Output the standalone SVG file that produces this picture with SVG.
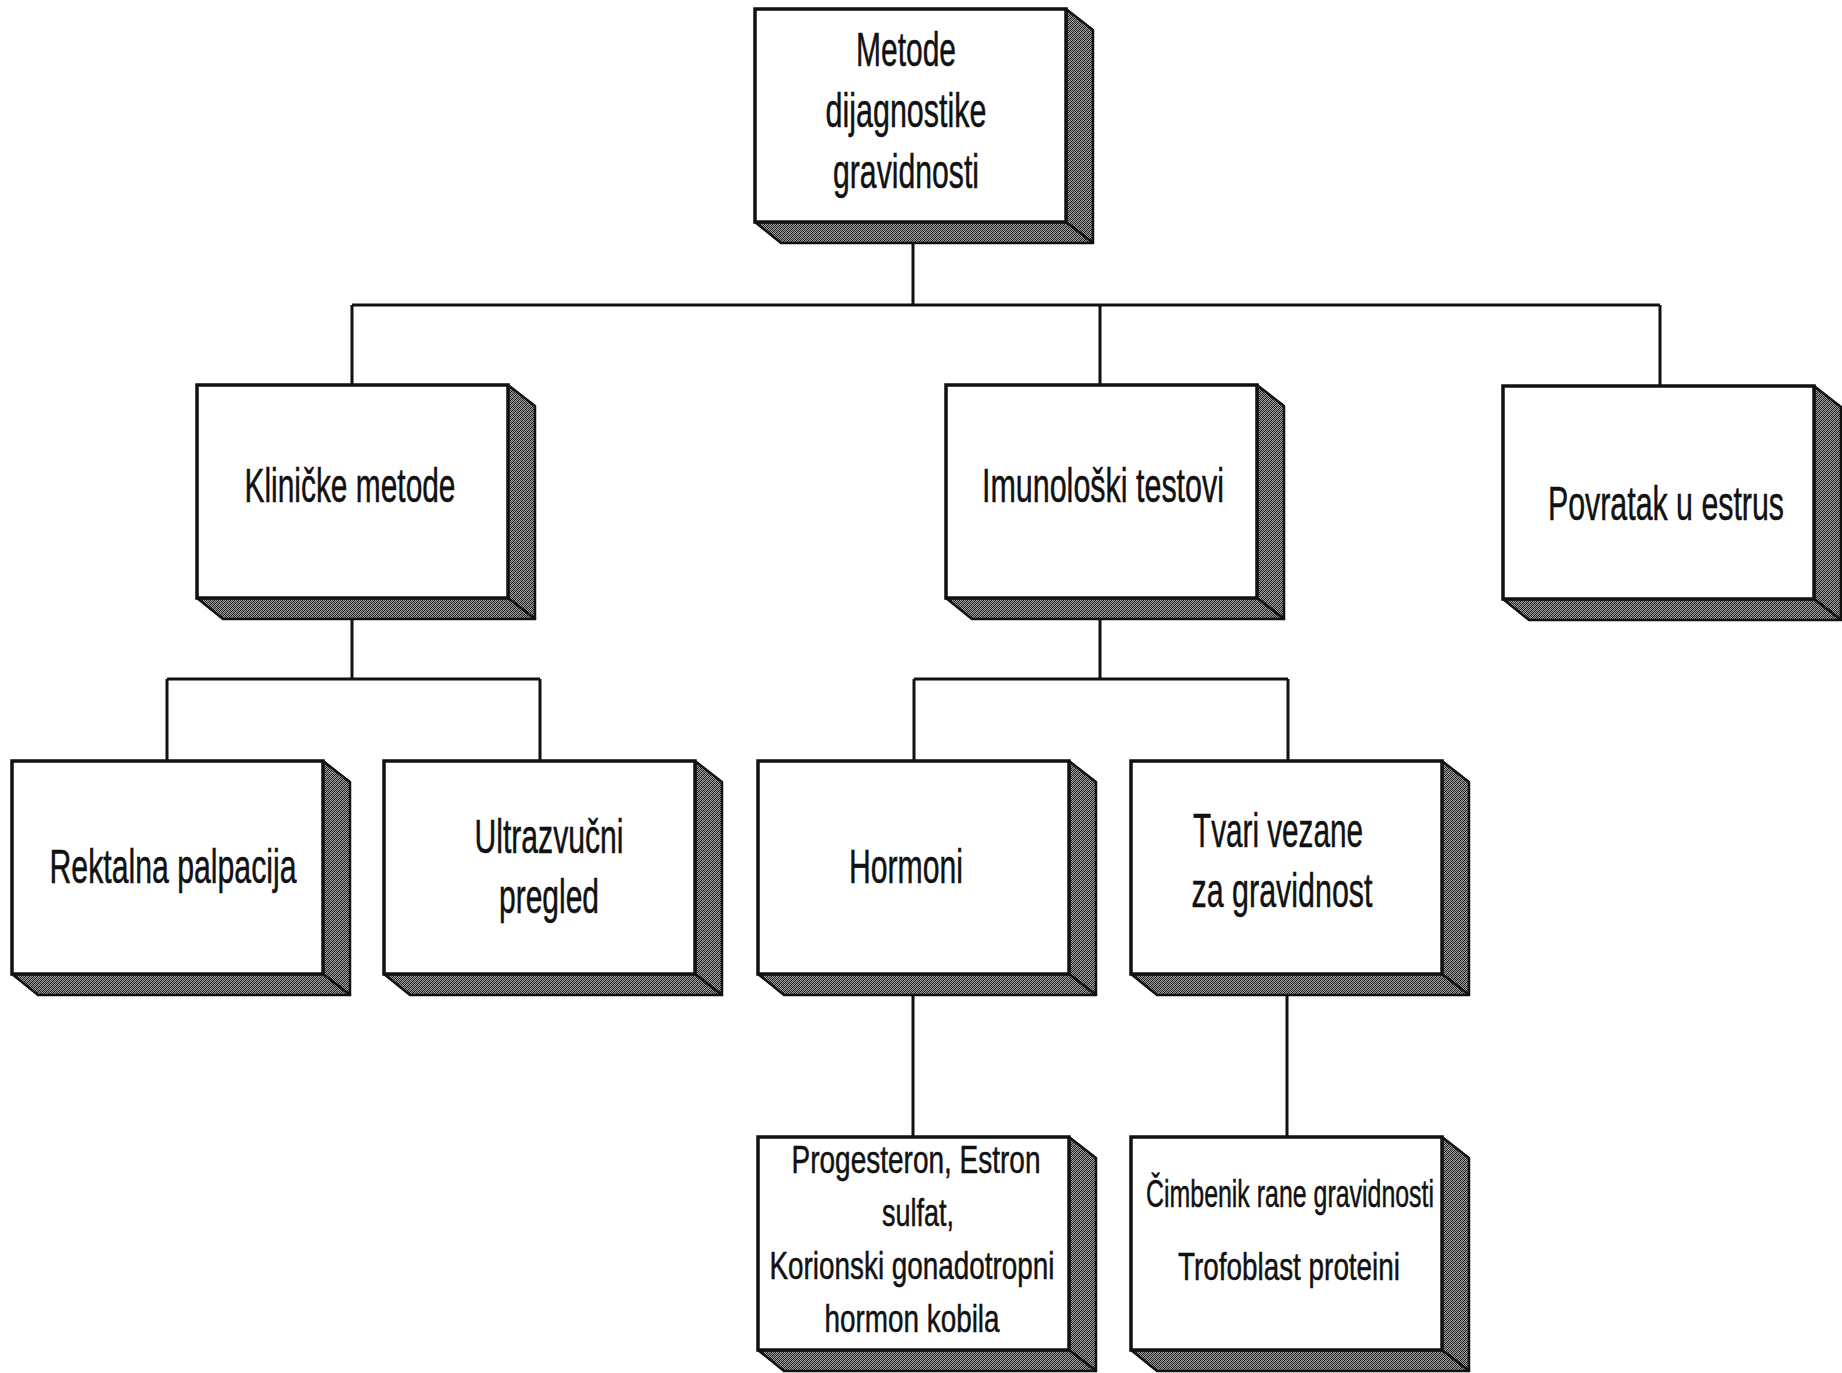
<svg xmlns="http://www.w3.org/2000/svg" width="1842" height="1373" viewBox="0 0 1842 1373">
<defs>
<pattern id="stip" width="4" height="4" patternUnits="userSpaceOnUse">
<rect width="4" height="4" fill="#a0a0a0"/>
<rect x="0" y="0" width="1" height="1" fill="#111"/>
<rect x="2" y="0" width="1" height="1" fill="#444"/>
<rect x="1" y="1" width="1" height="1" fill="#333"/>
<rect x="3" y="1" width="1" height="1" fill="#111"/>
<rect x="0" y="2" width="1" height="1" fill="#333"/>
<rect x="2" y="2" width="1" height="1" fill="#111"/>
<rect x="1" y="3" width="1" height="1" fill="#111"/>
<rect x="3" y="3" width="1" height="1" fill="#444"/>
</pattern>
<g id="box">
<polygon points="311,0 338,21 338,234 311,213" fill="url(#stip)" stroke="#111" stroke-width="2.5" stroke-linejoin="round"/>
<polygon points="0,213 311,213 338,234 26,234" fill="url(#stip)" stroke="#111" stroke-width="2.5" stroke-linejoin="round"/>
<rect x="0" y="0" width="311" height="213" fill="#fff" stroke="#111" stroke-width="3.5"/>
</g>
</defs>
<style>
.t{font-family:"Liberation Sans Narrow","Liberation Sans",Arial,sans-serif;font-size:48px;fill:#111;stroke:#111;stroke-width:0.5;text-anchor:middle}
.s{font-size:38px}
.c{fill:none;stroke:#111;stroke-width:3}
</style>
<rect width="1842" height="1373" fill="#fff"/>
<g id="connectors">
<path class="c" d="M913 244V305M352 305H1660M352 305V385M1100 305V385M1660 305V386"/>
<path class="c" d="M352 620V679M167 679H540M167 679V761M540 679V761"/>
<path class="c" d="M1100 620V679M914 679H1288M914 679V761M1288 679V761"/>
<path class="c" d="M913 995V1137M1287 995V1137"/>
</g>
<g id="n-root"><use href="#box" x="755" y="9"/>
<text class="t" x="906" y="66" textLength="100" lengthAdjust="spacingAndGlyphs">Metode</text>
<text class="t" x="906" y="127" textLength="161" lengthAdjust="spacingAndGlyphs">dijagnostike</text>
<text class="t" x="906" y="188" textLength="146" lengthAdjust="spacingAndGlyphs">gravidnosti</text></g>
<g id="n-klinicke"><use href="#box" x="197" y="385"/>
<text class="t" x="350" y="502" textLength="211" lengthAdjust="spacingAndGlyphs">Kliničke metode</text></g>
<g id="n-imuno"><use href="#box" x="946" y="385"/>
<text class="t" x="1103" y="502" textLength="242" lengthAdjust="spacingAndGlyphs">Imunološki testovi</text></g>
<g id="n-povratak"><use href="#box" x="1503" y="386"/>
<text class="t" transform="translate(1666,520) scale(0.632,1)" x="0" y="0">Povratak u estrus</text></g>
<g id="n-rektalna"><use href="#box" x="12" y="761"/>
<text class="t" x="173" y="883" textLength="247" lengthAdjust="spacingAndGlyphs">Rektalna palpacija</text></g>
<g id="n-ultra"><use href="#box" x="384" y="761"/>
<text class="t" x="549" y="853" textLength="149" lengthAdjust="spacingAndGlyphs">Ultrazvučni</text>
<text class="t" x="549" y="913" textLength="100" lengthAdjust="spacingAndGlyphs">pregled</text></g>
<g id="n-hormoni"><use href="#box" x="758" y="761"/>
<text class="t" x="906" y="883" textLength="114" lengthAdjust="spacingAndGlyphs">Hormoni</text></g>
<g id="n-tvari"><use href="#box" x="1131" y="761"/>
<text class="t" x="1278" y="847" textLength="170" lengthAdjust="spacingAndGlyphs">Tvari vezane</text>
<text class="t" x="1282" y="907" textLength="181" lengthAdjust="spacingAndGlyphs">za gravidnost</text></g>
<g id="n-progesteron"><use href="#box" x="758" y="1137"/>
<text class="t s" x="916" y="1173" textLength="249" lengthAdjust="spacingAndGlyphs">Progesteron, Estron</text>
<text class="t s" x="918" y="1226" textLength="72" lengthAdjust="spacingAndGlyphs">sulfat,</text>
<text class="t s" x="912" y="1279" textLength="285" lengthAdjust="spacingAndGlyphs">Korionski gonadotropni</text>
<text class="t s" x="912" y="1332" textLength="175" lengthAdjust="spacingAndGlyphs">hormon kobila</text></g>
<g id="n-cimbenik"><use href="#box" x="1131" y="1137"/>
<text class="t s" x="1290" y="1207" textLength="288" lengthAdjust="spacingAndGlyphs">Čimbenik rane gravidnosti</text>
<text class="t s" x="1289" y="1280" textLength="222" lengthAdjust="spacingAndGlyphs">Trofoblast proteini</text></g>
</svg>
